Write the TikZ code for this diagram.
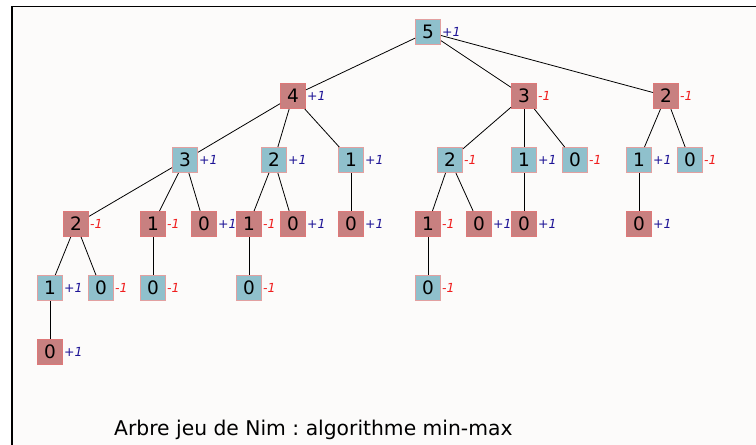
\documentclass[tikz,border=0pt]{standalone}
\usepackage{fontspec}
\setmainfont{DejaVu Sans}
\usepackage{tikz}
\usetikzlibrary{calc}
\frenchspacing

\definecolor{fond}{RGB}{252,251,250}
\definecolor{bleufond}{RGB}{143,192,204}
\definecolor{rougefond}{RGB}{200,128,128}
\definecolor{bordbleu}{RGB}{226,160,160}
\definecolor{bordrouge}{RGB}{222,120,120}
\definecolor{gainplus}{RGB}{30,20,150}
\definecolor{gainmoins}{RGB}{240,30,30}

\begin{document}
\begin{tikzpicture}[x=1pt, y=-1pt,
        bleu/.style={rectangle, fill=bleufond, draw=bordbleu, line width=1pt, minimum size=25pt, inner sep=0pt, font=\fontsize{18.5}{19}\selectfont},
        rouge/.style={rectangle, fill=rougefond, draw=bordrouge, line width=1pt, minimum size=25pt, inner sep=0pt, font=\fontsize{18.5}{19}\selectfont},
        plus/.style={text=gainplus, inner sep=1pt, label distance=0pt, font=\fontsize{12.5}{13}\selectfont\itshape},
        moins/.style={text=gainmoins, inner sep=1pt, label distance=0pt, font=\fontsize{12.5}{13}\selectfont\itshape}]
                \useasboundingbox (0,0) rectangle (756,445);
                \fill[white](0,0)rectangle(756,445);
                \fill[fond](12,6.3)rectangle(756,445);
                \draw[line width=1.3pt](12,445)--(12,6.3)--(756,6.3);

                % racine
                \node[bleu, label={[plus]right:+1}](A)at(428,32){5};
                % niveau 1
                \node[rouge, label={[plus]right:+1}](B)at(293,96){4};
                \node[rouge, label={[moins]right:-1}](C)at(524,96){3};
                \node[rouge, label={[moins]right:-1}](D)at(666,96){2};
                % niveau 2
                \node[bleu, label={[plus]right:+1}](E)at(185,160){3};
                \node[bleu, label={[plus]right:+1}](F)at(274,160){2};
                \node[bleu, label={[plus]right:+1}](G)at(351,160){1};
                \node[bleu, label={[moins]right:-1}](H)at(450,160){2};
                \node[bleu, label={[plus]right:+1}](I)at(524,160){1};
                \node[bleu, label={[moins]right:-1}](J)at(575,160){0};
                \node[bleu, label={[plus]right:+1}](K)at(639,160){1};
                \node[bleu, label={[moins]right:-1}](L)at(690,160){0};
                % niveau 3
                \node[rouge, label={[moins]right:-1}](M)at(76,224){2};
                \node[rouge, label={[moins]right:-1}](N)at(153,224){1};
                \node[rouge, label={[plus]right:+1}](O)at(204,224){0};
                \node[rouge, label={[moins]right:-1}](P)at(249,224){1};
                \node[rouge, label={[plus]right:+1}](Q)at(293,224){0};
                \node[rouge, label={[plus]right:+1}](R)at(351,224){0};
                \node[rouge, label={[moins]right:-1}](S)at(428,224){1};
                \node[rouge, label={[plus]right:+1}](T)at(479,224){0};
                \node[rouge, label={[plus]right:+1}](U)at(524,224){0};
                \node[rouge, label={[plus]right:+1}](V)at(639,224){0};
                % niveau 4
                \node[bleu, label={[plus]right:+1}](W)at(50,288){1};
                \node[bleu, label={[moins]right:-1}](X)at(101,288){0};
                \node[bleu, label={[moins]right:-1}](Y)at(153,288){0};
                \node[bleu, label={[moins]right:-1}](Z)at(249,288){0};
                \node[bleu, label={[moins]right:-1}](AA)at(428,288){0};
                % niveau 5
                \node[rouge, label={[plus]right:+1}](AB)at(50,352){0};

                \path[draw, thick](A)to(B);
                \path[draw, thick](A)to(C);
                \path[draw, thick](A)to(D);
                \path[draw, thick](B)to(E);
                \path[draw, thick](B)to(F);
                \path[draw, thick](B)to(G);
                \path[draw, thick](C)to(H);
                \path[draw, thick](C)to(I);
                \path[draw, thick](C)to(J);
                \path[draw, thick](D)to(K);
                \path[draw, thick](D)to(L);
                \path[draw, thick](E)to(M);
                \path[draw, thick](E)to(N);
                \path[draw, thick](E)to(O);
                \path[draw, thick](F)to(P);
                \path[draw, thick](F)to(Q);
                \path[draw, thick](G)to(R);
                \path[draw, thick](H)to(S);
                \path[draw, thick](H)to(T);
                \path[draw, thick](I)to(U);
                \path[draw, thick](K)to(V);
                \path[draw, thick](M)to(W);
                \path[draw, thick](M)to(X);
                \path[draw, thick](N)to(Y);
                \path[draw, thick](P)to(Z);
                \path[draw, thick](S)to(AA);
                \path[draw, thick](W)to(AB);

                \node[anchor=base west, inner sep=0pt, font=\fontsize{20.3}{21}\selectfont](titre)at(114,435){Arbre jeu de Nim : algorithme min-max};
            \end{tikzpicture}
\end{document}
